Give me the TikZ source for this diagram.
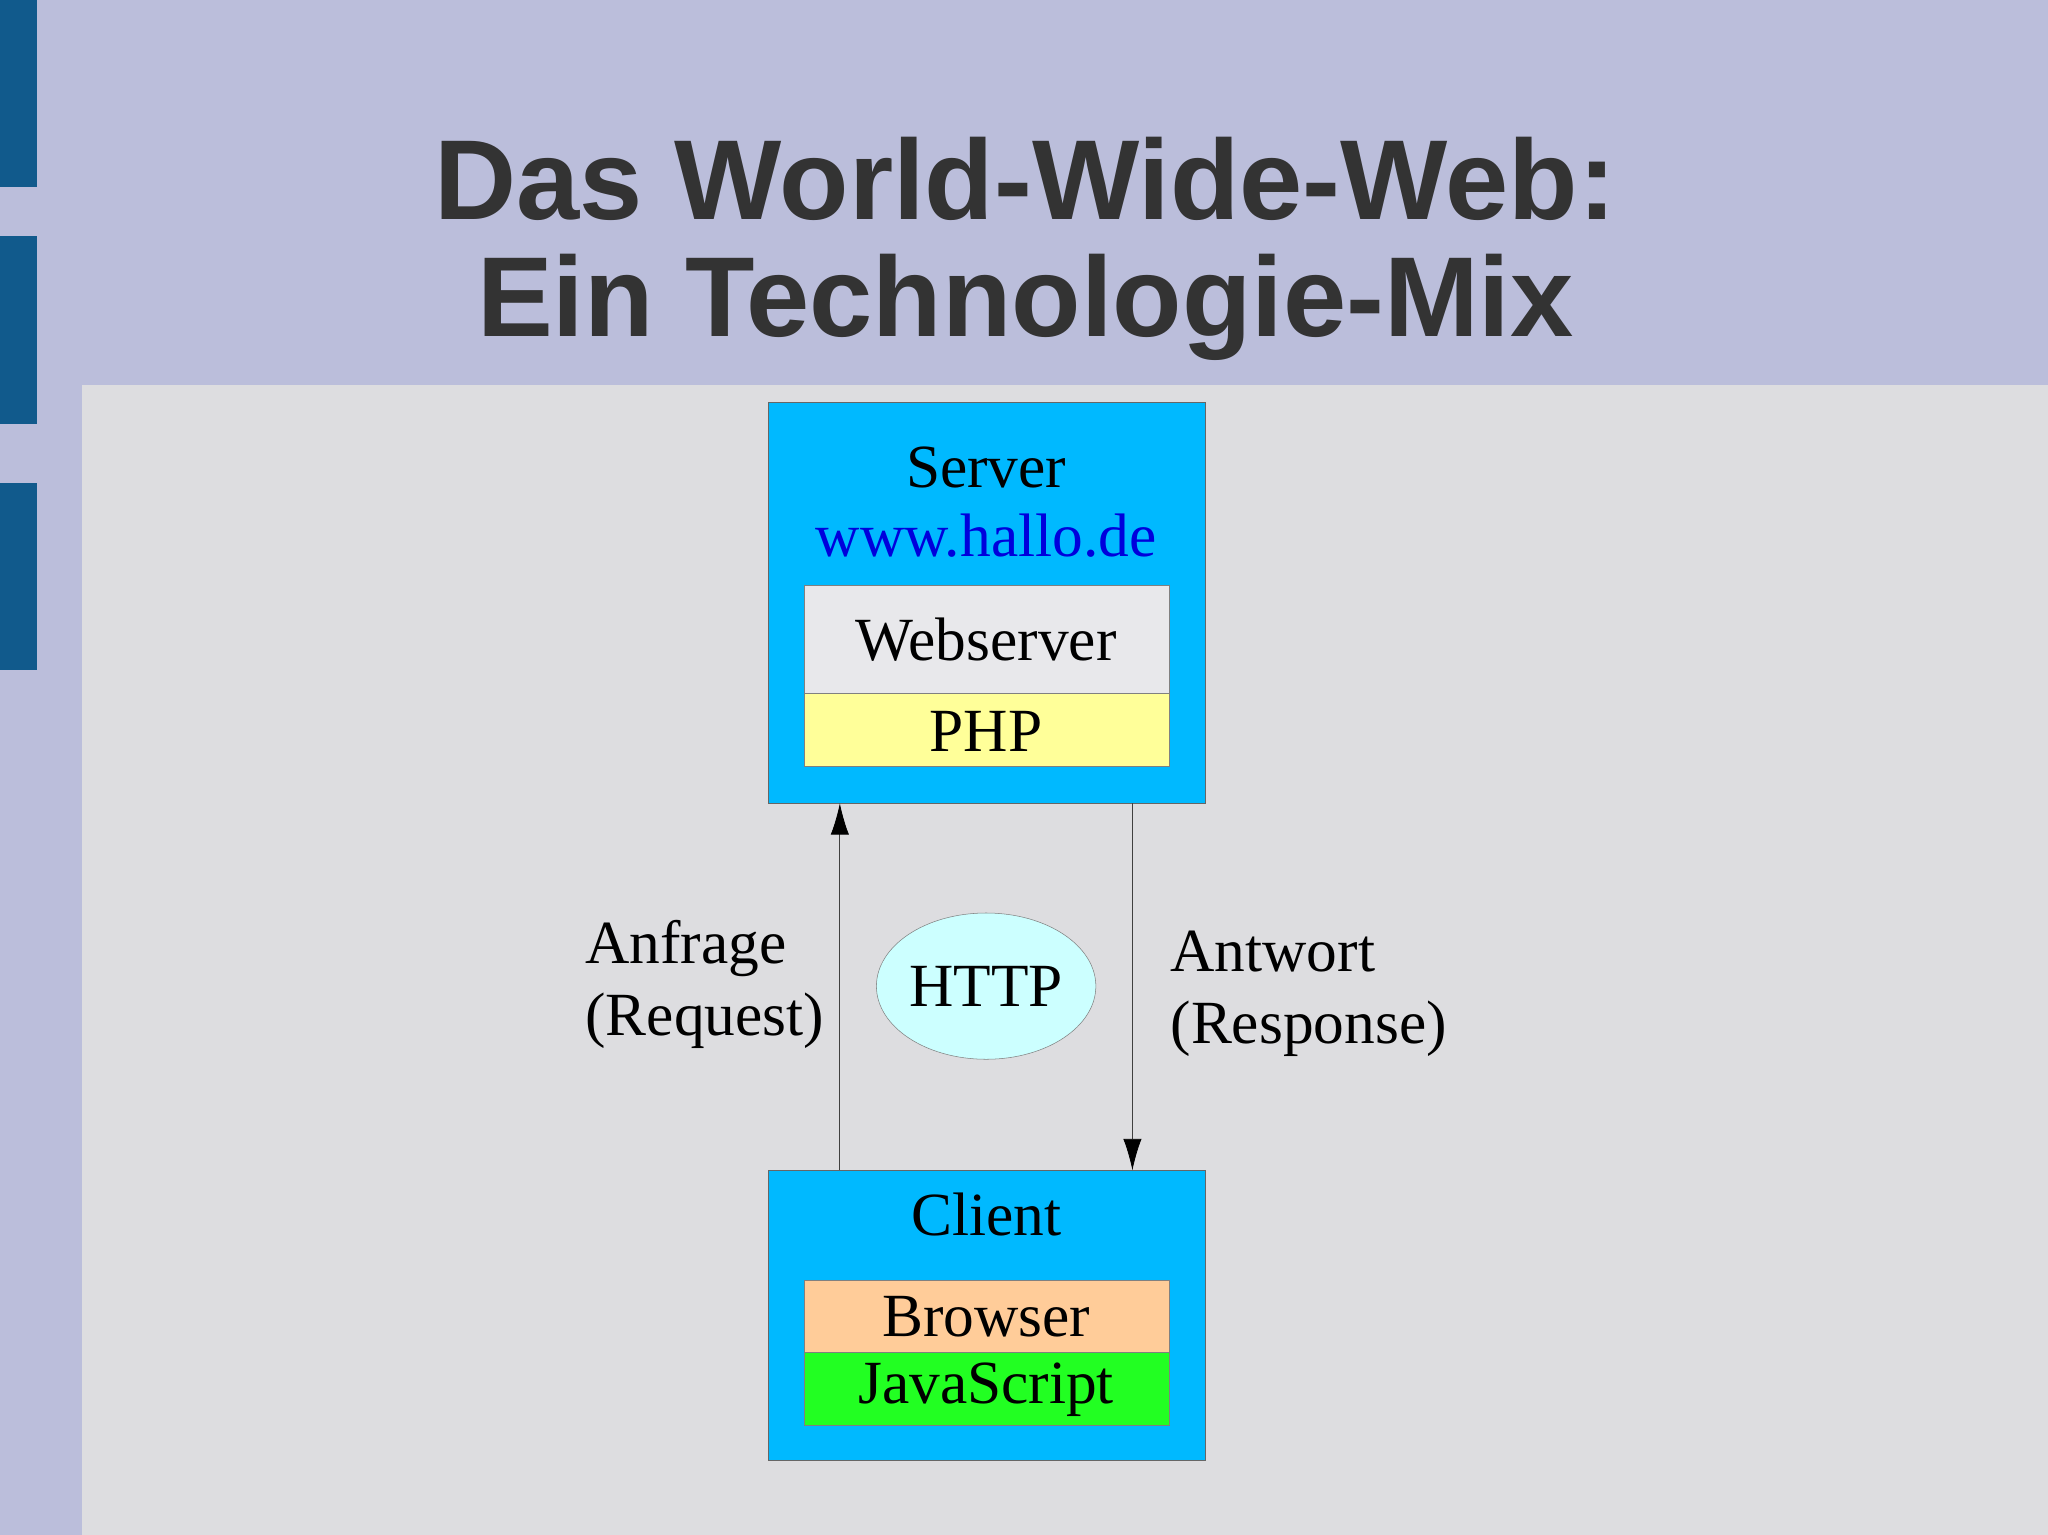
\documentclass[tikz,border=0pt]{standalone}
\usepackage{fontspec}
\setmainfont{Liberation Serif}
\setsansfont{Liberation Sans}
\usetikzlibrary{shapes.geometric,arrows.meta}
\definecolor{lav}{RGB}{187,190,219}
\definecolor{gbg}{RGB}{221,221,224}
\definecolor{bar}{RGB}{17,90,140}
\definecolor{ttl}{RGB}{51,51,51}
\definecolor{cyanbox}{RGB}{0,185,255}
\definecolor{webc}{RGB}{232,232,235}
\definecolor{phpc}{RGB}{255,255,153}
\definecolor{brc}{RGB}{255,204,153}
\definecolor{jsc}{RGB}{34,255,34}
\definecolor{httpc}{RGB}{204,255,255}
\definecolor{urlc}{RGB}{0,0,220}
\tikzset{
  outer/.style={draw=black!60,line width=0.6pt,fill=cyanbox},
  inner/.style={draw=black!50,line width=0.5pt},
  lbl/.style={font=\fontsize{47}{55}\selectfont,inner sep=0pt},
  conn/.style={draw=black!75,line width=0.6pt,-{Latex[length=24pt,width=14pt,color=black]}}
}
\begin{document}
\begin{tikzpicture}[x=1pt,y=-1pt]
\useasboundingbox (0,0) rectangle (1568,1175);
\fill[lav] (0,0) rectangle (1568,1175);
\fill[gbg] (63,295) rectangle (1568,1175);
\fill[bar] (0,0) rectangle (28,143);
\fill[bar] (0,181) rectangle (28,325);
\fill[bar] (0,370) rectangle (28,513);
\node[font=\sffamily\bfseries\fontsize{87}{90}\selectfont,text=ttl,inner sep=0pt] (t1) at (785,137) {Das World-Wide-Web:};
\node[font=\sffamily\bfseries\fontsize{87}{90}\selectfont,text=ttl,inner sep=0pt] (t2) at (785,235) {Ein Technologie-Mix};
% server
\draw[outer] (588,308) rectangle (923,615);
\node[lbl] (srv) at (755,358) {Server};
\node[lbl,text=urlc] (url) at (755,410) {www.hallo.de};
\draw[inner,fill=webc] (616,448) rectangle (895,531);
\node[lbl] (web) at (755,490) {Webserver};
\draw[inner,fill=phpc] (616,531) rectangle (895,587);
\node[lbl] (php) at (755,560) {PHP};
\coordinate (sA) at (643,615);
\coordinate (sB) at (867,615);
% client
\draw[outer] (588,896) rectangle (923,1118);
\node[lbl] (cl) at (755,930) {Client};
\draw[inner,fill=brc] (616,980) rectangle (895,1035);
\node[lbl] (br) at (755,1008) {Browser};
\draw[inner,fill=jsc] (616,1035) rectangle (895,1091);
\node[lbl] (js) at (755,1064) {JavaScript};
\coordinate (cA) at (643,896);
\coordinate (cB) at (867,896);
\draw[conn] (cA) -- (sA);
\draw[conn] (sB) -- (cB);
\node[ellipse,draw=black!50,fill=httpc,minimum width=168,minimum height=112,lbl] (http) at (755,755) {HTTP};
\node[lbl,align=left,anchor=west] (req) at (448,754) {Anfrage\\(Request)};
\node[lbl,align=left,anchor=west] (res) at (896,761) {Antwort\\(Response)};
\end{tikzpicture}
\end{document}
